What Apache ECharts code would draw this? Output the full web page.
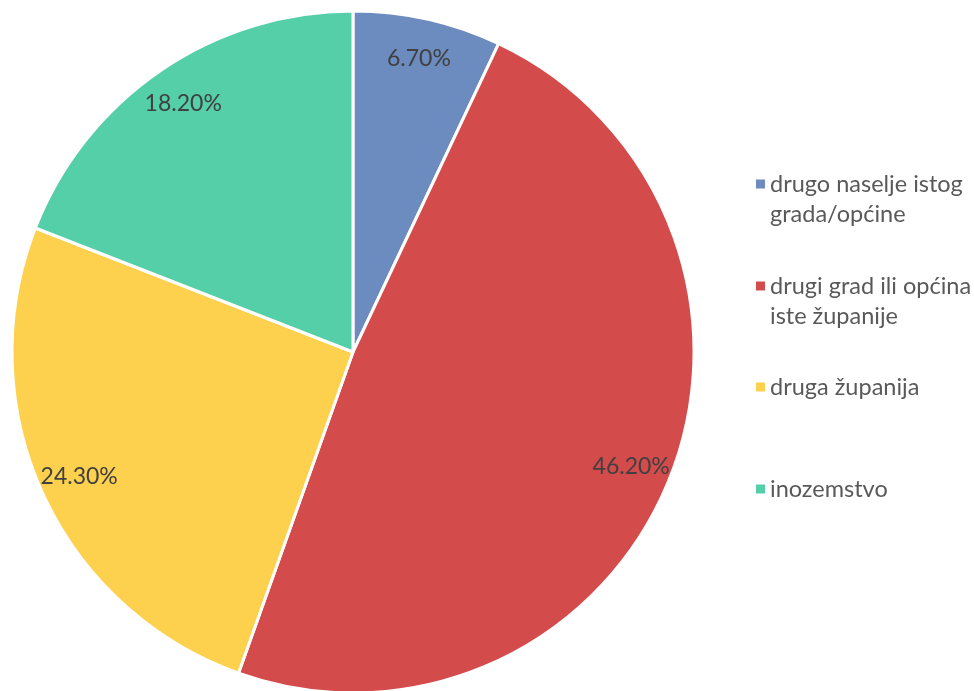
<!DOCTYPE html>
<html>
<head>
<meta charset="utf-8">
<script src="https://cdn.jsdelivr.net/npm/echarts@6/dist/echarts.min.js"></script>
<style>
html,body{margin:0;padding:0;background:#fff;}
#chart{width:974px;height:691px;}
</style>
</head>
<body>
<div id="chart"></div>
<script>
const categories = ['drugo naselje istog\ngrada/općine', 'drugi grad ili općina\niste županije', 'druga županija', 'inozemstvo'];
const values = [6.7, 46.2, 24.3, 18.2];
const colors = ['#6c8bbf', '#d44b4c', '#fdd14e', '#55cfa8'];

const chart = echarts.init(document.getElementById('chart'), null, {renderer: 'canvas'});

const pieData = categories.map((c, i) => ({name: c, value: values[i], itemStyle: {color: colors[i]}}));
const labelData = categories.map((c, i) => ({name: c, value: values[i]}));

// vertical centre of each legend entry's first line
const legendFirstLine = [184, 286, 387, 489];
const legends = categories.map((c, i) => {
  const twoLines = c.indexOf('\n') >= 0;
  return {
    data: [c],
    orient: 'vertical',
    left: 749,
    top: legendFirstLine[i] - (twoLines ? 50 : 20),
    icon: 'rect',
    itemWidth: 11,
    itemHeight: 11,
    itemGap: 0,
    selectedMode: false,
    // leading blank line keeps the marker level with the first text line
    formatter: name => (twoLines ? '\n' + name : name),
    textStyle: {fontFamily: 'Lato', fontSize: 23.5, color: '#595959', lineHeight: 30, padding: [0, 0, 0, -1]}
  };
});

chart.setOption({
  animation: false,
  backgroundColor: '#ffffff',
  legend: legends,
  series: [
    {
      type: 'pie',
      center: [353, 352],
      radius: [0, 341],
      startAngle: 90,
      clockwise: true,
      silent: true,
      label: {show: false},
      labelLine: {show: false},
      itemStyle: {borderColor: '#ffffff', borderWidth: 3},
      data: pieData
    },
    {
      type: 'pie',
      center: [353, 352],
      radius: [255, 341],
      startAngle: 90,
      clockwise: true,
      silent: true,
      legendHoverLink: false,
      itemStyle: {color: 'rgba(0,0,0,0)', borderWidth: 0},
      label: {
        show: true,
        position: 'inside',
        formatter: p => p.value.toFixed(2) + '%',
        fontFamily: 'Lato',
        fontSize: 23,
        color: '#404040'
      },
      labelLine: {show: false},
      data: labelData
    }
  ]
});
</script>
</body>
</html>
